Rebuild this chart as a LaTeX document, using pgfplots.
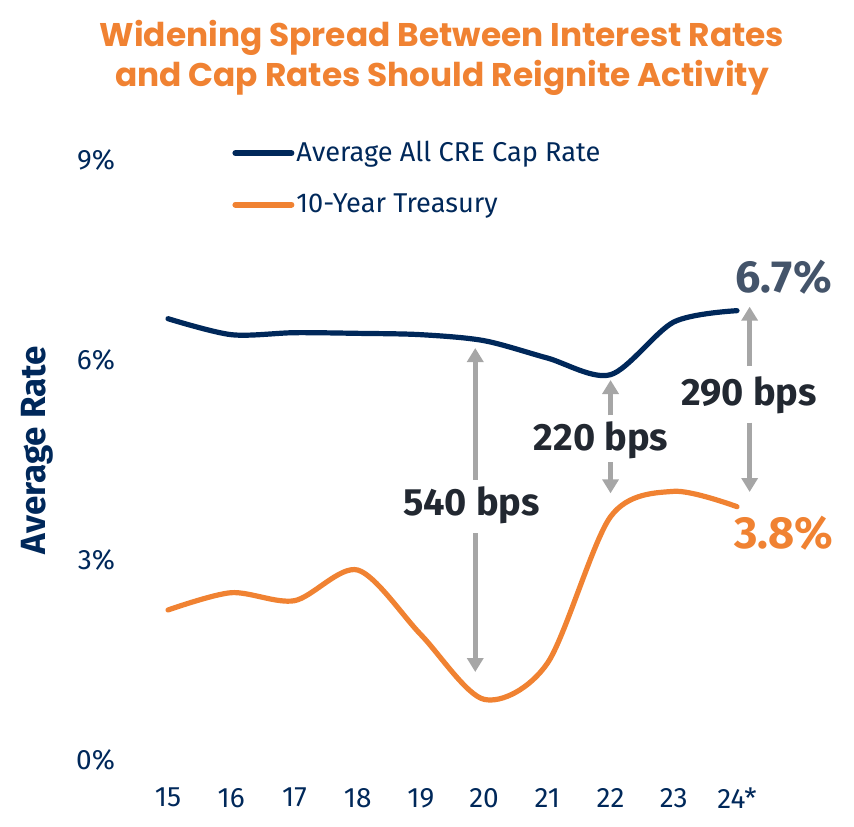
\documentclass[border=0pt]{standalone}
\usepackage{fontspec}
\setmainfont{Fira Sans}
\newfontfamily\titlefont{Poppins}
\usepackage{pgfplots}
\pgfplotsset{compat=1.18}
\usetikzlibrary{arrows.meta}
\definecolor{navy}{RGB}{0,40,90}
\definecolor{orng}{RGB}{240,130,50}
\definecolor{slate}{RGB}{68,84,106}
\definecolor{darktxt}{RGB}{34,40,49}
\definecolor{arrgray}{RGB}{166,166,166}
\begin{document}
\begin{tikzpicture}
\useasboundingbox (0,0) rectangle (427pt,413pt);
\node[font=\titlefont\bfseries\fontsize{16.4pt}{20pt}\selectfont, text=orng, align=center] at (221pt,384pt) {Widening Spread Between Interest Rates\\and Cap Rates Should Reignite Activity};
\begin{axis}[
 at={(84pt,33pt)}, anchor=south west,
 scale only axis, width=284.5pt, height=300pt,
 xmin=15, xmax=24, ymin=0, ymax=9, clip=false,
 axis line style={draw=none}, major tick length=0pt,
 xtick={15,...,24}, xticklabels={15,16,17,18,19,20,21,22,23,24*},
 ytick={0,3,6,9}, yticklabels={0\%,3\%,6\%,9\%},
 tick label style={font=\fontsize{14pt}{16pt}\selectfont, text=navy},
 yticklabel style={anchor=east, xshift=-23pt},
 xticklabel style={anchor=north, yshift=-10.5pt},
 ylabel={Average Rate},
 every axis y label/.style={at={(axis description cs:-0.2300,0.5167)}, rotate=90, anchor=center, font=\bfseries\fontsize{17.5pt}{19pt}\selectfont, text=navy},
 legend style={at={(axis description cs:0.1125,1.035)}, anchor=north west, draw=none, fill=none, inner sep=0pt, row sep=12.5pt, font=\fontsize{13.6pt}{16pt}\selectfont, text=navy, nodes={inner sep=1pt}},
 legend image code/.code={\draw[#1, line width=3pt] (0pt,0pt) -- (28pt,0pt);},
 legend cell align=left,
]
\addplot[navy, line width=2.6pt, smooth, line cap=round] coordinates {
 (15,6.62) (16,6.38) (17,6.41) (18,6.40) (19,6.38) (20,6.29) (21,6.03) (22,5.78) (23,6.57) (24,6.74)};
\addlegendentry{Average All CRE Cap Rate}
\addplot[orng, line width=2.6pt, smooth, line cap=round] coordinates {
 (15,2.25) (16,2.51) (17,2.39) (18,2.85) (19,1.88) (20,0.91) (21,1.45) (22,3.65) (23,4.03) (24,3.80)};
\addlegendentry{10-Year Treasury}
% arrows
\draw[arrgray, line width=2.5pt, -{Triangle[width=8pt,length=7pt]}] (axis cs:19.86,4.2) -- (axis cs:19.86,6.18);
\draw[arrgray, line width=2.5pt, -{Triangle[width=8pt,length=7pt]}] (axis cs:19.86,3.4) -- (axis cs:19.86,1.32);
\draw[arrgray, line width=2.5pt, -{Triangle[width=8pt,length=7pt]}] (axis cs:22.0,5.17) -- (axis cs:22.0,5.70);
\draw[arrgray, line width=2.5pt, -{Triangle[width=8pt,length=7pt]}] (axis cs:22.0,4.47) -- (axis cs:22.0,4.0);
\draw[arrgray, line width=2.5pt, -{Triangle[width=8pt,length=7pt]}] (axis cs:24.2,5.91) -- (axis cs:24.2,6.8);
\draw[arrgray, line width=2.5pt, -{Triangle[width=8pt,length=7pt]}] (axis cs:24.2,5.06) -- (axis cs:24.2,4.02);
\node[font=\bfseries\fontsize{19pt}{22pt}\selectfont, text=darktxt] at (axis cs:19.8,3.825) {540 bps};
\node[font=\bfseries\fontsize{19pt}{22pt}\selectfont, text=darktxt] at (axis cs:21.85,4.8) {220 bps};
\node[font=\bfseries\fontsize{19pt}{22pt}\selectfont, text=darktxt] at (axis cs:24.19,5.475) {290 bps};
\node[font=\bfseries\fontsize{22.5pt}{25pt}\selectfont, text=slate] at (axis cs:24.74,7.245) {6.7\%};
\node[font=\bfseries\fontsize{22.5pt}{25pt}\selectfont, text=orng] at (axis cs:24.74,3.405) {3.8\%};
\end{axis}
\end{tikzpicture}
\end{document}
